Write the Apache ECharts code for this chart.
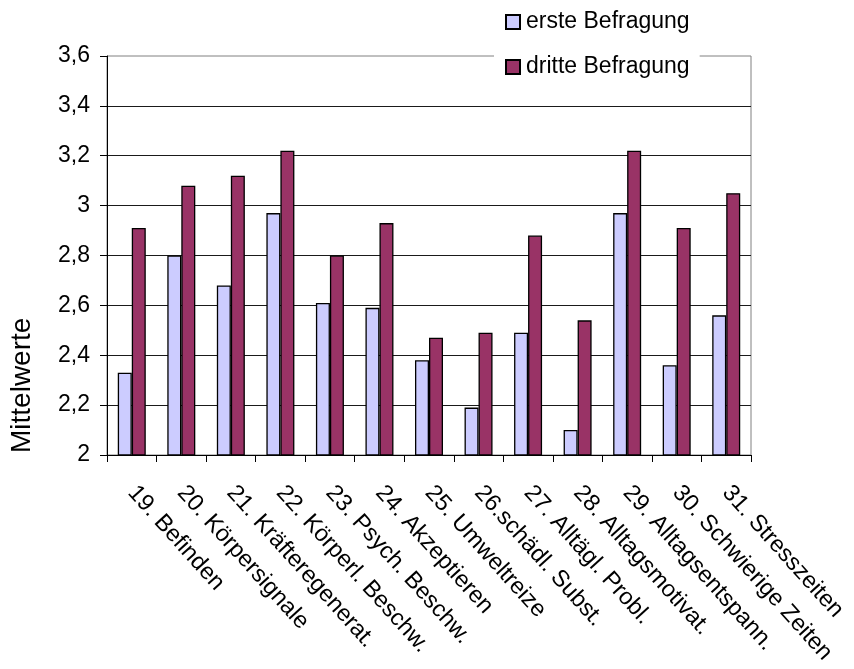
<!DOCTYPE html>
<html>
<head>
<meta charset="utf-8">
<script src="https://cdn.jsdelivr.net/npm/echarts@6/dist/echarts.min.js"></script>
<style>
  html, body { margin: 0; padding: 0; background: #fff; }
  #chart { width: 854px; height: 669px; }
</style>
</head>
<body>
<div id="chart"></div>
<script>
const categories = [
  '19. Befinden', '20. Körpersignale', '21. Kräfteregenerat.', '22. Körperl. Beschw.',
  '23. Psych. Beschw.', '24. Akzeptieren', '25. Umweltreize', '26.schädl. Subst.',
  '27. Alltägl. Probl.', '28. Alltagsmotivat.', '29. Alltagsentspann.',
  '30. Schwierige Zeiten', '31. Stresszeiten'
];
const ersteBefragung  = [2.33, 2.80, 2.68, 2.97, 2.61, 2.59, 2.38, 2.19, 2.49, 2.10, 2.97, 2.36, 2.56];
const dritteBefragung = [2.91, 3.08, 3.12, 3.22, 2.80, 2.93, 2.47, 2.49, 2.88, 2.54, 3.22, 2.91, 3.05];
const seriesNames = ['erste Befragung', 'dritte Befragung'];
const yAxisTitle = 'Mittelwerte';

const FONT = '"Liberation Sans", Arial, sans-serif';
const chart = echarts.init(document.getElementById('chart'), null, { renderer: 'canvas' });

chart.setOption({
  animation: false,
  backgroundColor: '#ffffff',
  textStyle: { fontFamily: FONT, color: '#000' },
  grid: {
    left: 107, right: 103, top: 56, bottom: 214,
    show: true, borderColor: '#808080', borderWidth: 1, backgroundColor: 'transparent'
  },
  legend: {
    orient: 'vertical',
    left: 494, top: 0,
    padding: [10, 10, 8, 11],
    backgroundColor: '#ffffff',
    itemWidth: 14, itemHeight: 14, itemGap: 21,
    icon: 'rect',
    textStyle: { fontFamily: FONT, fontSize: 23, lineHeight: 24, color: '#000', padding: [0, 0, 0, 1] },
    data: seriesNames
  },
  xAxis: {
    type: 'category',
    data: categories,
    boundaryGap: true,
    axisLine: { lineStyle: { color: '#000', width: 1 } },
    axisTick: { show: true, alignWithLabel: false, length: 7, lineStyle: { color: '#000' } },
    axisLabel: { rotate: -48, margin: 34, fontFamily: FONT, fontSize: 23.5, color: '#000', interval: 0 },
    splitLine: { show: false }
  },
  yAxis: {
    type: 'value',
    min: 2, max: 3.6, interval: 0.2,
    axisLine: { show: true, lineStyle: { color: '#000', width: 1 } },
    axisTick: { show: true, length: 7, inside: false, lineStyle: { color: '#000' } },
    axisLabel: {
      margin: 17, fontFamily: FONT, fontSize: 23, color: '#000',
      formatter: v => String(Math.round(v * 10) / 10).replace('.', ',')
    },
    splitLine: { show: true, showMinLine: false, showMaxLine: false, lineStyle: { color: '#1a1a1a', width: 1 } }
  },
  graphic: [{
    type: 'text',
    x: 22, y: 453,
    rotation: Math.PI / 2,
    style: {
      text: yAxisTitle,
      fontFamily: FONT, fontSize: 28, fill: '#000',
      align: 'left', verticalAlign: 'middle'
    }
  }],
  series: [
    {
      name: seriesNames[0], type: 'bar', data: ersteBefragung,
      barWidth: 14, barGap: '0%',
      itemStyle: { color: '#CCCCFF', borderColor: '#000', borderWidth: 1.3 }
    },
    {
      name: seriesNames[1], type: 'bar', data: dritteBefragung,
      barWidth: 14, barGap: '0%',
      itemStyle: { color: '#993366', borderColor: '#000', borderWidth: 1.3 }
    }
  ]
});
</script>
</body>
</html>
